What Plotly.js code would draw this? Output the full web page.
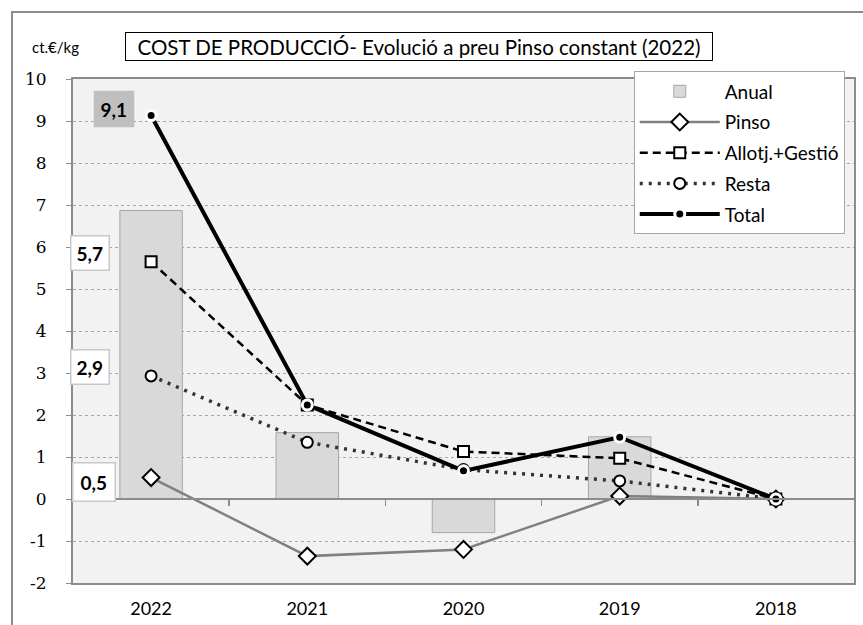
<!DOCTYPE html>
<html>
<head>
<meta charset="utf-8">
<script src="https://cdn.plot.ly/plotly-3.0.1.min.js"></script>
<style>html,body{margin:0;padding:0;background:#fff;}#chart{width:863px;height:625px;}</style>
</head>
<body>
<div id="chart"></div>
<script>
const categories = ['2022', '2021', '2020', '2019', '2018'];
const anual  = [6.87, 1.58, -0.80, 1.48, 0];
const pinso  = [0.51, -1.36, -1.20, 0.07, 0];
const allotj = [5.65, 2.24, 1.13, 0.97, 0];
const resta  = [2.93, 1.35, 0.70, 0.43, 0];
const total  = [9.13, 2.24, 0.67, 1.47, 0];
const seriesNames = ['Anual', 'Pinso', 'Allotj.+Gestió', 'Resta', 'Total'];
const yTicks = [-2, -1, 0, 1, 2, 3, 4, 5, 6, 7, 8, 9, 10];
const titleText = 'COST DE PRODUCCIÓ- Evolució a preu Pinso constant (2022)';
const unitText = 'ct.€/kg';

const SANS = 'Lato, "Open Sans", sans-serif';
const fmt = v => v.toFixed(1).replace('.', ',');

const traces = [
  {type: 'bar', name: seriesNames[0], x: categories, y: anual, width: 0.4,
   marker: {color: '#d9d9d9', line: {color: '#a6a6a6', width: 1}}, legendgroup: 'a'},
  {type: 'scatter', mode: 'lines+markers', name: seriesNames[1], x: categories, y: pinso,
   line: {color: '#808080', width: 2.5},
   marker: {symbol: 'diamond', size: 13, color: '#ffffff', line: {color: '#000000', width: 2}}, legendgroup: 'b'},
  {type: 'scatter', mode: 'lines+markers', name: seriesNames[2], x: categories, y: allotj,
   line: {color: '#000000', width: 2.5, dash: '8px,5px'},
   marker: {symbol: 'square', size: 11, color: '#ffffff', line: {color: '#000000', width: 2}}, legendgroup: 'c'},
  {type: 'scatter', mode: 'lines+markers', name: seriesNames[3], x: categories, y: resta,
   line: {color: '#333333', width: 3.5, dash: '3px,6px'},
   marker: {symbol: 'circle', size: 11, color: '#ffffff', line: {color: '#000000', width: 2}}, legendgroup: 'd'},
  {type: 'scatter', mode: 'lines+markers', name: seriesNames[4], x: categories, y: total,
   line: {color: '#000000', width: 4},
   marker: {symbol: 'circle', size: 10, color: '#000000', line: {color: '#ffffff', width: 3}}, legendgroup: 'e'},
  {type: 'scatter', mode: 'none', x: categories.map((c, i) => i), y: anual, xaxis: 'x2', yaxis: 'y',
   showlegend: false, hoverinfo: 'skip'}
];

const labelStyle = [
  {src: total,  bg: '#bfbfbf', border: 'rgba(0,0,0,0)', xs: -37.5, ys: 7, pad: 6},
  {src: allotj, bg: '#ffffff', border: '#c8c8c8', xs: -61, ys: 9, pad: 5},
  {src: resta,  bg: '#ffffff', border: '#c8c8c8', xs: -61.5, ys: 9, pad: 5},
  {src: pinso,  bg: '#ffffff', border: '#c8c8c8', xs: -57.5, ys: -4, pad: 7}
];

const annotations = labelStyle.map(s => ({
  xref: 'x', yref: 'y', x: 0, y: s.src[0], text: '<b>' + fmt(s.src[0]) + '</b>',
  showarrow: false, xshift: s.xs, yshift: s.ys, bgcolor: s.bg, bordercolor: s.border, borderwidth: 1.5,
  borderpad: s.pad, font: {family: SANS, size: 19, color: '#000'}
}));

annotations.push({
  xref: 'paper', yref: 'paper', x: 0.443, y: 1.0645, xanchor: 'center', yanchor: 'middle',
  text: titleText, showarrow: false, bgcolor: '#ffffff', bordercolor: '#000000', borderwidth: 1,
  borderpad: 2, width: 582, height: 23, font: {family: SANS, size: 20.5, color: '#000'}
});
annotations.push({
  xref: 'paper', yref: 'paper', x: -0.0218, y: 1.0635, xanchor: 'center', yanchor: 'middle',
  text: unitText, showarrow: false, font: {family: SANS, size: 15, color: '#000'}
});

const layout = {
  width: 863, height: 625,
  margin: {l: 73, r: 9, t: 79, b: 42},
  paper_bgcolor: '#ffffff', plot_bgcolor: '#f2f2f2',
  showlegend: true,
  barmode: 'overlay',
  xaxis: {type: 'category', range: [-0.5, 4.5], showgrid: false, zeroline: false,
          showline: true, mirror: true, linecolor: '#8c8c8c', linewidth: 2,
          ticks: '', ticklabelstandoff: 8,
          tickfont: {family: SANS, size: 18, color: '#000'}},
  xaxis2: {overlaying: 'x', anchor: 'free', position: 1/6, range: [-0.5, 4.5],
           tickvals: [0.5, 1.5, 2.5, 3.5], ticks: 'outside', ticklen: 6, tickwidth: 1.5, tickcolor: '#8c8c8c',
           showticklabels: false, showline: true, linecolor: '#8c8c8c', linewidth: 2,
           showgrid: false, zeroline: false},
  yaxis: {range: [-2, 10], tickmode: 'array', tickvals: yTicks, ticktext: yTicks.map(String),
          showgrid: true, gridcolor: '#a6a6a6', griddash: 'dot', gridwidth: 1,
          zeroline: false, showline: true, mirror: true, linecolor: '#8c8c8c', linewidth: 2,
          ticks: 'outside', ticklen: 5, tickcolor: '#8c8c8c', ticklabelstandoff: 16,
          tickfont: {family: '"DejaVu Serif", serif', size: 17, color: '#000'}},
  legend: {x: 0.718, y: 1.015, xanchor: 'left', yanchor: 'top', bgcolor: '#ffffff',
           bordercolor: '#a6a6a6', borderwidth: 1, tracegroupgap: 3, itemwidth: 80,
           entrywidth: 152, entrywidthmode: 'pixels',
           font: {family: SANS, size: 19, color: '#000'}},
  shapes: [{type: 'rect', xref: 'paper', yref: 'paper', x0: -0.0781, x1: 1.04, y0: -0.12, y1: 1.1329,
            line: {color: '#8c8c8c', width: 2}, fillcolor: 'rgba(0,0,0,0)', layer: 'below'}],
  annotations: annotations
};

Plotly.newPlot('chart', traces, layout, {displayModeBar: false, staticPlot: true});
</script>
</body>
</html>
